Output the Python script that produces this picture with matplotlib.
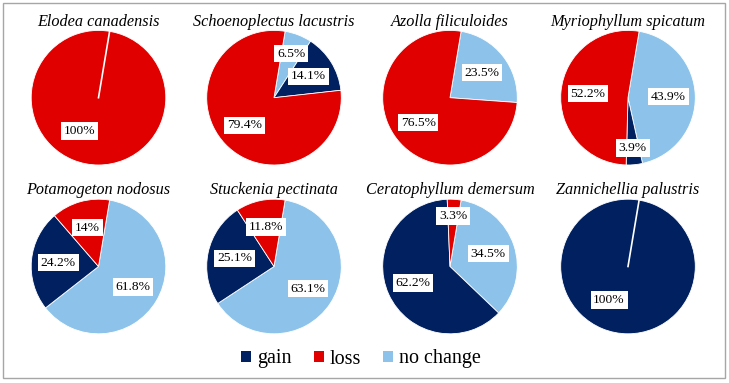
import numpy as np
import matplotlib
matplotlib.use("Agg")
import matplotlib.pyplot as plt
from matplotlib.patches import Patch, Rectangle

plt.rcParams['font.family'] = ['Liberation Serif', 'DejaVu Serif']

# data (percent of area), legend order: gain, loss, no change
species = ["Elodea canadensis", "Schoenoplectus lacustris", "Azolla filiculoides",
           "Myriophyllum spicatum", "Potamogeton nodosus", "Stuckenia pectinata",
           "Ceratophyllum demersum", "Zannichellia palustris"]
gain = [0, 14.1, 0, 3.9, 24.2, 25.1, 62.2, 100]
loss = [100, 79.4, 76.5, 52.2, 14, 11.8, 3.3, 0]
no_change = [0, 6.5, 23.5, 43.9, 61.8, 63.1, 34.5, 0]

categories = ["gain", "loss", "no change"]
colors = {"gain": "#002060", "loss": "#E00000", "no change": "#8DC3EA"}

W, H = 729, 383
fig = plt.figure(figsize=(W / 100, H / 100), dpi=100)

# outer frame
fig.patches.append(Rectangle((3 / W, 5 / H), 722 / W, 375 / H, transform=fig.transFigure,
                             fill=False, edgecolor="#A6A6A6", linewidth=1))

col_x = [98.5, 274, 450, 628]
row_y = [97.7, 266.5]
rad = 67.3
start = 80.5  # degrees, ccw from +x

for i, name in enumerate(species):
    cx, cy = col_x[i % 4], row_y[i // 4]
    ax = fig.add_axes([(cx - rad) / W, 1 - (cy + rad) / H, 2 * rad / W, 2 * rad / H])
    # clockwise drawing order: no change, gain, loss
    vals = [no_change[i], gain[i], loss[i]]
    cols = [colors["no change"], colors["gain"], colors["loss"]]
    keep = [k for k in range(3) if vals[k] > 0]
    v = [vals[k] for k in keep]
    c = [cols[k] for k in keep]
    ax.pie(v, colors=c, startangle=start, counterclock=False, radius=1,
           wedgeprops=dict(edgecolor="white", linewidth=0.6))
    ax.set_xlim(-1, 1)
    ax.set_ylim(-1, 1)
    ax.set_aspect("equal")
    ax.axis("off")

    total = sum(v)
    if len(v) == 1:
        a = np.deg2rad(start)
        ax.plot([0, np.cos(a)], [0, np.sin(a)], color="white", lw=1.2)
        la = np.deg2rad(start - 200)
        ax.text(0.57 * np.cos(la), 0.57 * np.sin(la), f"{v[0]:g}%", ha="center", va="center",
                fontsize=9.7, bbox=dict(boxstyle="square,pad=0.2", fc="white", ec="none"))
    else:
        cum = 0
        for val in v:
            mid = start - (cum + val / 2) / total * 360
            cum += val
            r = 0.6 if val >= 8 else (0.7 if val >= 5 else 0.75)
            a = np.deg2rad(mid)
            ax.text(r * np.cos(a), r * np.sin(a), f"{val:g}%", ha="center", va="center",
                    fontsize=9.7, bbox=dict(boxstyle="square,pad=0.2", fc="white", ec="none"))

    ax.text(0, 1.13, name, ha="center", va="center", fontsize=11.7, style="italic",
            clip_on=False)

handles = [Patch(facecolor=colors[k], edgecolor="none") for k in categories]
fig.legend(handles, categories, loc="center", bbox_to_anchor=(361 / W, 1 - 359 / H),
           ncol=3, frameon=False, fontsize=14.5, handlelength=0.5, handleheight=0.5,
           handletextpad=0.3, columnspacing=1.1)

fig.savefig("out.png", dpi=100)
